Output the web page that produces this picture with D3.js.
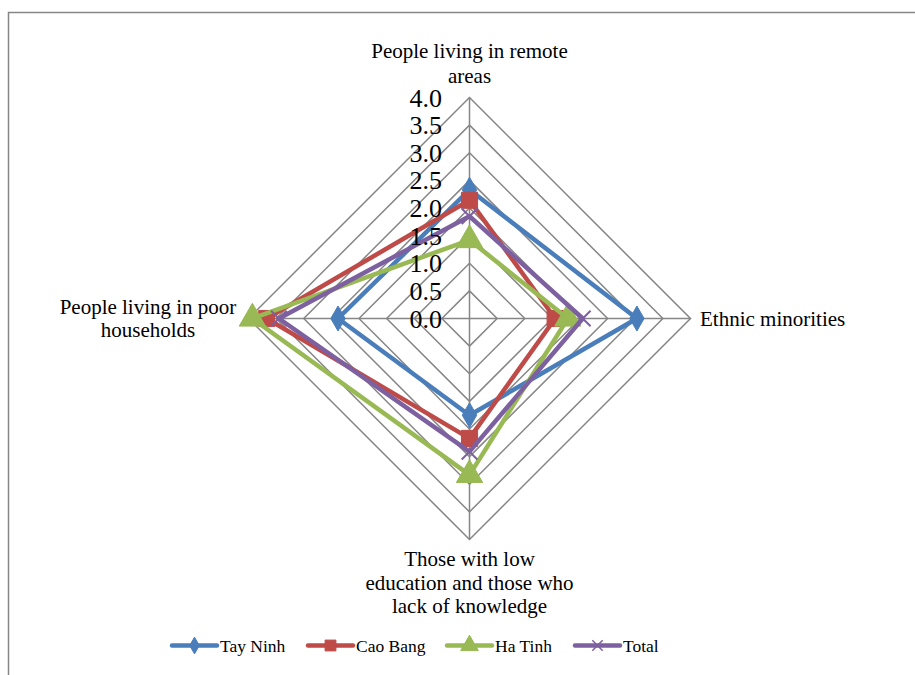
<!DOCTYPE html>
<html><head><meta charset="utf-8">
<script src="https://cdn.jsdelivr.net/npm/d3@7"></script>
</head><body style="margin:0;background:#fff">
<svg id="c" width="915" height="675" font-family="Liberation Serif" style="display:block;font-family:'Liberation Serif',serif"></svg>
<script>
const categories = [
  ["People living in remote", "areas"],
  ["Ethnic minorities"],
  ["Those with low", "education and those who", "lack of knowledge"],
  ["People living in poor", "households"]
];
const seriesNames = ["Tay Ninh", "Cao Bang", "Ha Tinh", "Total"];
const tayNinh = [2.33, 3.03, 1.75, 2.38];
const caoBang = [2.14, 1.55, 2.17, 3.67];
const haTinh  = [1.42, 1.78, 2.83, 3.93];
const total   = [1.85, 2.05, 2.41, 3.45];
const tickValues = [0, 0.5, 1, 1.5, 2, 2.5, 3, 3.5, 4];
const colors = ["#4A7EBB", "#BE4B48", "#98B954", "#7D60A0"];
const markers = ["diamond", "square", "triangle", "x"];
const seriesValues = [tayNinh, caoBang, haTinh, total];

const FONT = "'Liberation Serif', serif";
const svg = d3.select("#c");
const cx = 469.5, cy = 318.5, R = 221;
const r = d3.scaleLinear().domain([0, 4]).range([0, R]);
const angle = i => -Math.PI / 2 + i * Math.PI / 2;
const pt = (i, v) => [cx + r(v) * Math.cos(angle(i)), cy + r(v) * Math.sin(angle(i))];

// border
svg.append("path").attr("d", "M8.5,675V12.5H915").attr("fill", "none").attr("stroke", "#868686").attr("stroke-width", 1.5);

const grid = svg.append("g");
tickValues.slice(1).forEach(t => {
  grid.append("path")
    .attr("d", d3.line()(categories.map((c, i) => pt(i, t))) + "Z")
    .attr("fill", "none").attr("stroke", "#868686").attr("stroke-width", 1.5);
});
categories.forEach((c, i) => {
  grid.append("line").attr("x1", cx).attr("y1", cy)
    .attr("x2", pt(i, 4)[0]).attr("y2", pt(i, 4)[1])
    .attr("stroke", "#868686").attr("stroke-width", 1.5);
});

// series
const symType = {diamond: d3.symbolDiamond, square: d3.symbolSquare, triangle: d3.symbolTriangle, x: d3.symbolX};
const symSize = {diamond: 180, square: 260, triangle: 300, x: 160};
seriesValues.forEach((vals, s) => {
  const g = svg.append("g");
  g.append("path")
    .attr("d", d3.line()(vals.map((v, i) => pt(i, v))) + "Z")
    .attr("fill", "none").attr("stroke", colors[s]).attr("stroke-width", 4.5).attr("stroke-linejoin", "round");
  vals.forEach((v, i) => {
    const [x, y] = pt(i, v);
    const m = markers[s];
    g.append("path").attr("transform", `translate(${x},${y})`)
      .attr("d", d3.symbol().type(symType[m]).size(symSize[m])())
      .attr("fill", m === "x" ? "none" : colors[s])
      .attr("stroke", colors[s]).attr("stroke-width", m === "x" ? 2 : 1);
  });
});

// tick labels
svg.append("g").selectAll("text").data(tickValues).join("text")
  .attr("x", 442).attr("y", d => cy - r(d)).attr("dy", "0.35em")
  .attr("text-anchor", "end").attr("font-size", 26).style("font-family", FONT).attr("fill", "#000")
  .text(d => d.toFixed(1));

// category labels
const labelPos = [
  {x: 469.5, y: 58, anchor: "middle", lh: 24.5},
  {x: 700, y: 326, anchor: "start", lh: 23.5},
  {x: 469.5, y: 566, anchor: "middle", lh: 23.5},
  {x: 148, y: 314, anchor: "middle", lh: 23}
];
categories.forEach((lines, i) => {
  const p = labelPos[i];
  const t = svg.append("text").attr("x", p.x).attr("y", p.y).attr("text-anchor", p.anchor)
    .attr("font-size", 21).style("font-family", FONT).attr("fill", "#000");
  lines.forEach((l, k) => t.append("tspan").attr("x", p.x).attr("y", p.y + k * p.lh).text(l));
});

// legend
const legX = [172, 308, 447, 575];
const legY = 645.5;
seriesNames.forEach((n, s) => {
  const g = svg.append("g");
  g.append("line").attr("x1", legX[s]).attr("x2", legX[s] + 45).attr("y1", legY).attr("y2", legY)
    .attr("stroke", colors[s]).attr("stroke-width", 4.5).attr("stroke-linecap", "round");
  const m = markers[s];
  g.append("path").attr("transform", `translate(${legX[s] + 22.5},${legY})`)
    .attr("d", d3.symbol().type(symType[m]).size(symSize[m] * 0.45)())
    .attr("fill", m === "x" ? "none" : colors[s])
    .attr("stroke", colors[s]).attr("stroke-width", m === "x" ? 1.5 : 1);
  g.append("text").attr("x", legX[s] + 48).attr("y", legY).attr("dy", "0.35em")
    .attr("font-size", 17.5).style("font-family", FONT).attr("fill", "#000").text(n);
});
</script></body></html>
